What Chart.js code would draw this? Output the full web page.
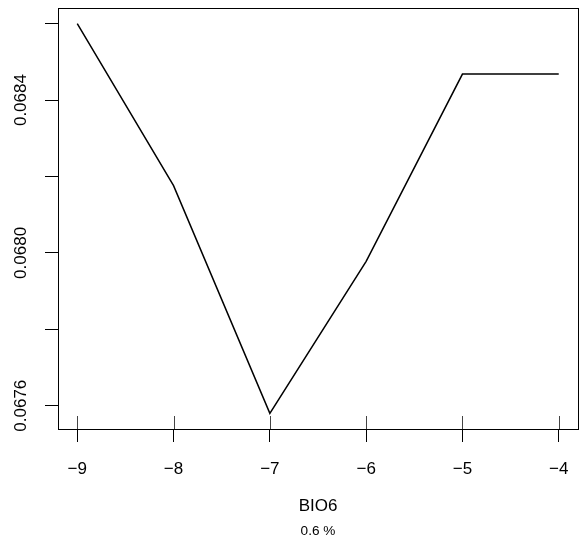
<!DOCTYPE html>
<html>
<head>
<meta charset="utf-8">
<script src="https://cdn.jsdelivr.net/npm/chart.js@4"></script>
<style>
  html, body { margin: 0; padding: 0; background: #fff; }
  #wrap { width: 583px; height: 548px; }
</style>
</head>
<body>
<div id="wrap"><canvas id="c" width="583" height="548"></canvas></div>
<script>
// Data
const xValues = [-9, -8, -7, -6, -5, -4];
const yValues = [0.06860, 0.068176, 0.06758, 0.067978, 0.068468, 0.068468];
const xTicks = [-9, -8, -7, -6, -5, -4];
const yTicks = [0.0676, 0.0678, 0.0680, 0.0682, 0.0684, 0.0686];
const yTickLabels = ['0.0676', '', '0.0680', '', '0.0684', ''];
const xTitle = 'BIO6';
const subTitle = '0.6 %';

const FONT = '"Liberation Sans", Arial, Helvetica, sans-serif';

const extrasPlugin = {
  id: 'extras',
  afterDraw(chart) {
    const ctx = chart.ctx;
    const a = chart.chartArea;
    const xs = chart.scales.x, ys = chart.scales.y;
    ctx.save();
    // box
    ctx.strokeStyle = '#000';
    ctx.lineWidth = 1;
    ctx.strokeRect(Math.round(a.left) + 0.5, Math.round(a.top) + 0.5,
                   Math.round(a.right - a.left), Math.round(a.bottom - a.top));
    // rug at data x positions
    ctx.strokeStyle = '#444';
    ctx.lineWidth = 1;
    xValues.forEach(v => {
      const px = Math.round(xs.getPixelForValue(v)) + 0.5;
      ctx.beginPath();
      ctx.moveTo(px, a.bottom);
      ctx.lineTo(px, a.bottom - 13);
      ctx.stroke();
    });
    // rotated y tick labels
    ctx.fillStyle = '#000';
    ctx.font = '17px ' + FONT;
    ctx.textAlign = 'center';
    ctx.textBaseline = 'middle';
    yTicks.forEach((v, i) => {
      const lab = yTickLabels[i];
      if (!lab) return;
      const py = ys.getPixelForValue(v);
      ctx.save();
      ctx.translate(21, py);
      ctx.rotate(-Math.PI / 2);
      ctx.fillText(lab, 0, 0);
      ctx.restore();
    });
    // sub title
    ctx.font = '13.6px ' + FONT;
    ctx.fillText(subTitle, (a.left + a.right) / 2, 531);
    ctx.restore();
  }
};

new Chart(document.getElementById('c'), {
  type: 'line',
  data: {
    datasets: [{
      data: xValues.map((x, i) => ({ x: x, y: yValues[i] })),
      borderColor: '#000',
      borderWidth: 1.5,
      pointRadius: 0,
      fill: false,
      tension: 0
    }]
  },
  options: {
    responsive: false,
    animation: false,
    devicePixelRatio: 1,
    layout: { padding: { top: 8, right: 5, left: 0, bottom: 0 } },
    plugins: { legend: { display: false }, tooltip: { enabled: false } },
    scales: {
      x: {
        type: 'linear',
        min: -9.2,
        max: -3.8,
        afterBuildTicks: s => { s.ticks = xTicks.map(v => ({ value: v })); },
        afterFit: s => { s.height = 119; s.paddingLeft = 0; s.paddingRight = 0; },
        grid: { drawOnChartArea: false, drawTicks: true, tickLength: 13, color: '#000', lineWidth: 1 },
        border: { display: true, color: '#000', width: 1 },
        ticks: {
          color: '#000',
          font: { family: FONT, size: 17 },
          padding: 17,
          maxRotation: 0,
          callback: v => (v < 0 ? '\u2212' + Math.abs(v) : String(v))
        },
        title: {
          display: true,
          text: xTitle,
          color: '#000',
          font: { family: FONT, size: 17 },
          padding: { top: 0, bottom: 31 }
        }
      },
      y: {
        type: 'linear',
        min: 0.067539,
        max: 0.068641,
        afterBuildTicks: s => { s.ticks = yTicks.map(v => ({ value: v })); },
        afterFit: s => { s.width = 58; s.paddingTop = 0; s.paddingBottom = 0; },
        grid: { drawOnChartArea: false, drawTicks: true, tickLength: 13, color: '#000', lineWidth: 1 },
        border: { display: true, color: '#000', width: 1 },
        ticks: { display: false }
      }
    }
  },
  plugins: [extrasPlugin]
});
</script>
</body>
</html>
